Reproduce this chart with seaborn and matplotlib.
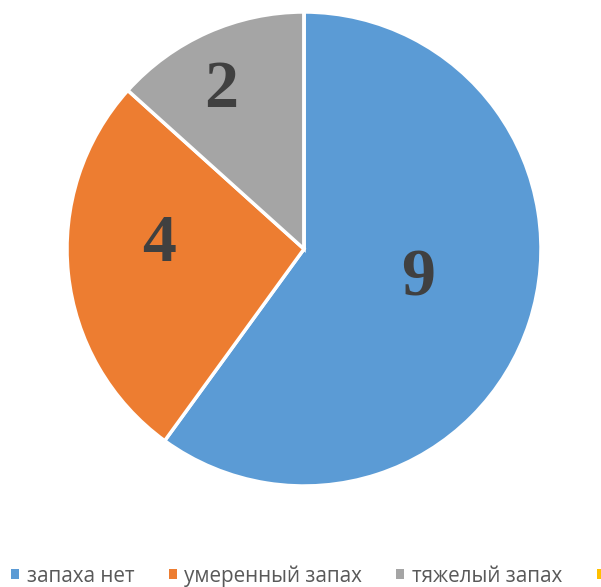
import matplotlib
matplotlib.use("Agg")
import matplotlib.pyplot as plt
import seaborn as sns
from matplotlib.patches import Patch
import numpy as np

categories = ["запаха нет", "умеренный запах", "тяжелый запах", ""]
values = [9, 4, 2, 0]
colors = ["#5B9BD5", "#ED7D31", "#A5A5A5", "#FFC000"]
label_texts = ["9", "4", "2"]

sns.set_style("white")
plt.rcParams['font.family'] = ['Open Sans', 'DejaVu Sans']

W, H = 601, 587
fig = plt.figure(figsize=(W / 100, H / 100), dpi=100)
cx, cy, R = 304, 249, 237
ax = fig.add_axes([(cx - R) / W, (H - cy - R) / H, 2 * R / W, 2 * R / H])

wedges, _ = ax.pie(values, colors=colors, startangle=90, counterclock=False,
                   radius=1, wedgeprops=dict(edgecolor="white", linewidth=2.5))
ax.set_xlim(-1, 1)
ax.set_ylim(-1, 1)
ax.set_aspect("equal")
ax.axis("off")

# (radial distance, angular offset in degrees) for each data label
label_place = [(0.50, 3.3), (0.61, -7.6), (0.753, 3.7)]
for w, t, (d, off) in zip(wedges[:3], label_texts, label_place):
    ang = np.deg2rad((w.theta1 + w.theta2) / 2 + off)
    ax.text(d * np.cos(ang), d * np.sin(ang), t, ha="center", va="center",
            fontsize=49, fontweight="bold", color="#404040",
            family="Liberation Serif")

fs = 14.9
em = fs * 100 / 72
handles = [Patch(facecolor=c, edgecolor="none") for c in colors]
fig.legend(handles, categories, loc="center left",
           bbox_to_anchor=(11 / W, 11 / H),
           ncol=4, frameon=False, fontsize=fs, borderpad=0, borderaxespad=0,
           handlelength=8 / em, handleheight=8 / em,
           handletextpad=8 / em, columnspacing=34 / em, labelcolor="#595959")

fig.savefig("out.png", dpi=100)
